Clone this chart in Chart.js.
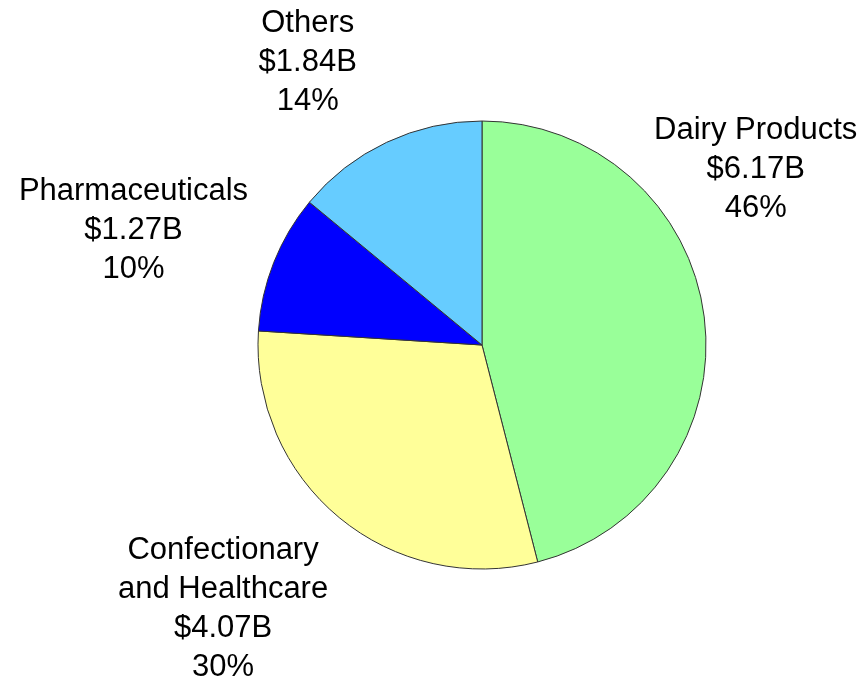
<!DOCTYPE html>
<html>
<head>
<meta charset="utf-8">
<script src="https://cdn.jsdelivr.net/npm/chart.js@4/dist/chart.umd.min.js"></script>
<style>
    html, body { margin: 0; padding: 0; background: #fff; }
    #wrap { width: 868px; height: 685px; }
</style>
</head>
<body>
<div id="wrap"><canvas id="pie-chart"></canvas></div>
<script>
// 分类
const categories = ['Dairy Products', 'Confectionary\nand Healthcare', 'Pharmaceuticals', 'Others'];
// 份额（%），扇区按此绘制
const shareValues = [46, 30, 10, 14];
// 金额标签
const amountLabels = ['$6.17B', '$4.07B', '$1.27B', '$1.84B'];

const sliceColors = ['#99FF99', '#FFFF99', '#0000FF', '#66CCFF'];

// 标签相对于圆心的位置（以半径为单位）
const labelOffsets = [
    [1.222, -0.782],
    [-1.156, 1.178],
    [-1.556, -0.511],
    [-0.778, -1.262]
];

// 自定义标签插件
const sliceLabels = {
    id: 'sliceLabels',
    afterDraw(chart) {
        const ctx = chart.ctx;
        const meta = chart.getDatasetMeta(0);
        ctx.save();
        ctx.font = '31px "Liberation Sans", Arial, sans-serif';
        ctx.fillStyle = '#000';
        ctx.textAlign = 'center';
        ctx.textBaseline = 'middle';
        const lineH = 39;
        meta.data.forEach((arc, i) => {
            const r = arc.outerRadius;
            const cx = arc.x + labelOffsets[i][0] * r;
            const cy = arc.y + labelOffsets[i][1] * r;
            const lines = categories[i].split('\n').concat([amountLabels[i], shareValues[i] + '%']);
            const top = cy - (lines.length - 1) * lineH / 2;
            lines.forEach((t, k) => ctx.fillText(t, cx, top + k * lineH));
        });
        ctx.restore();
    }
};

new Chart(document.getElementById('pie-chart'), {
    type: 'pie',
    data: {
        labels: categories,
        datasets: [{
            data: shareValues,
            backgroundColor: sliceColors,
            borderColor: '#333',
            borderWidth: 1,
            radius: 224
        }]
    },
    options: {
        responsive: true,
        maintainAspectRatio: false,
        animation: false,
        layout: { padding: { left: 96, top: 5, right: 0, bottom: 0 } },
        plugins: {
            legend: { display: false },
            tooltip: { enabled: false }
        }
    },
    plugins: [sliceLabels]
});
</script>
</body>
</html>
